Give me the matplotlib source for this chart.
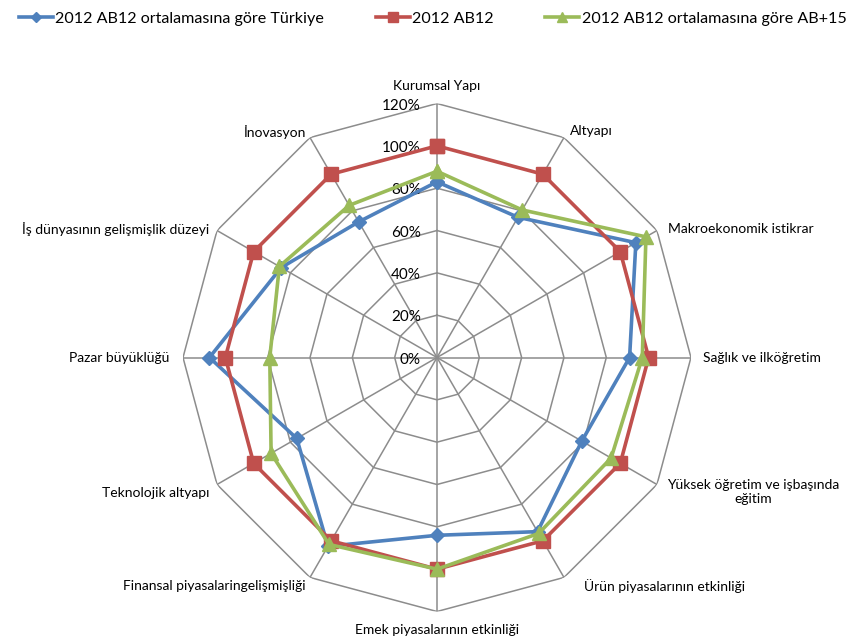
import numpy as np
import matplotlib
matplotlib.use("Agg")
import matplotlib.pyplot as plt

plt.rcParams['font.family'] = ['Lato', 'DejaVu Sans']

# Categories, clockwise from the top
categories = ["Kurumsal Yapı", "Altyapı", "Makroekonomik istikrar", "Sağlık ve ilköğretim",
              "Yüksek öğretim ve işbaşında\neğitim", "Ürün piyasalarının etkinliği",
              "Emek piyasalarının etkinliği", "Finansal piyasalaringelişmişliği",
              "Teknolojik altyapı", "Pazar büyüklüğü", "İş dünyasının gelişmişlik düzeyi",
              "İnovasyon"]

# Values in percent of the 2012 AB12 average
turkiye = [83, 76.5, 108.5, 91, 79, 95, 84, 103, 76.5, 107.5, 85, 74]
ab12 = [100, 100, 100, 100, 100, 100, 100, 100, 100, 100, 100, 100]
ab15 = [88, 80.5, 114, 97, 95, 96, 100, 102, 90.5, 79, 86, 83]

levels = [0, 20, 40, 60, 80, 100, 120]
level_labels = ["0%", "20%", "40%", "60%", "80%", "100%", "120%"]

series = [
    ("2012 AB12 ortalamasına göre Türkiye", turkiye, "#4F81BD", "D", 7),
    ("2012 AB12", ab12, "#C0504D", "s", 10),
    ("2012 AB12 ortalamasına göre AB+15", ab15, "#9BBB59", "^", 10),
]

# label offsets in pixels from the outer vertex, and alignment
label_pos = [((0, 18), 'center'), ((6, 7), 'left'), ((11, 2), 'left'), ((12, 0), 'left'),
             ((10, -7), 'left'), ((20, -9), 'left'), ((0, -19), 'center'), ((-4, -9), 'right'),
             ((-8, -8), 'right'), ((-14, 0), 'right'), ((-8, 2), 'right'), ((-4, 6), 'right')]

n = len(categories)
theta = np.arange(n) * 2 * np.pi / n
theta_c = np.append(theta, theta[0])

fig = plt.figure(figsize=(8.57, 6.43), dpi=100)
ax = fig.add_axes([0.2135, 0.049, 0.5928, 0.790], projection='polar')
ax.set_theta_zero_location('N')
ax.set_theta_direction(-1)
ax.set_ylim(0, 120)
ax.grid(False)
ax.set_xticks([])
ax.set_yticks([])
ax.spines['polar'].set_visible(False)
ax.patch.set_visible(False)

grid_col = '#8C8C8C'
for lvl in levels[1:]:
    ax.plot(theta_c, [lvl] * (n + 1), color=grid_col, lw=1.1, zorder=1)
for t in theta:
    ax.plot([t, t], [0, 120], color=grid_col, lw=1.1, zorder=1)

for lvl, lab in zip(levels, level_labels):
    ax.annotate(lab, xy=(0, lvl), xytext=(-16, -2), textcoords='offset pixels',
                ha='right', va='center', fontsize=11, color='#000000', annotation_clip=False)

for cat, t, (off, ha) in zip(categories, theta, label_pos):
    ax.annotate(cat, xy=(t, 120), xytext=off, textcoords='offset pixels', ha=ha, va='center',
                multialignment='center', fontsize=10, annotation_clip=False)

for z, (name, vals, col, mk, ms) in enumerate(series):
    ax.plot(theta_c, vals + vals[:1], color=col, lw=2.6, marker=mk, markersize=ms,
            markerfacecolor=col, markeredgecolor=col, label=name, zorder=3 + z, clip_on=False)

fig.legend(loc='upper center', bbox_to_anchor=(0.505, 1.005), ncol=3, frameon=False,
           fontsize=11.6, handlelength=2.1, columnspacing=3.2, handletextpad=0.15,
           markerscale=0.75)

fig.savefig("out.png", dpi=100)
